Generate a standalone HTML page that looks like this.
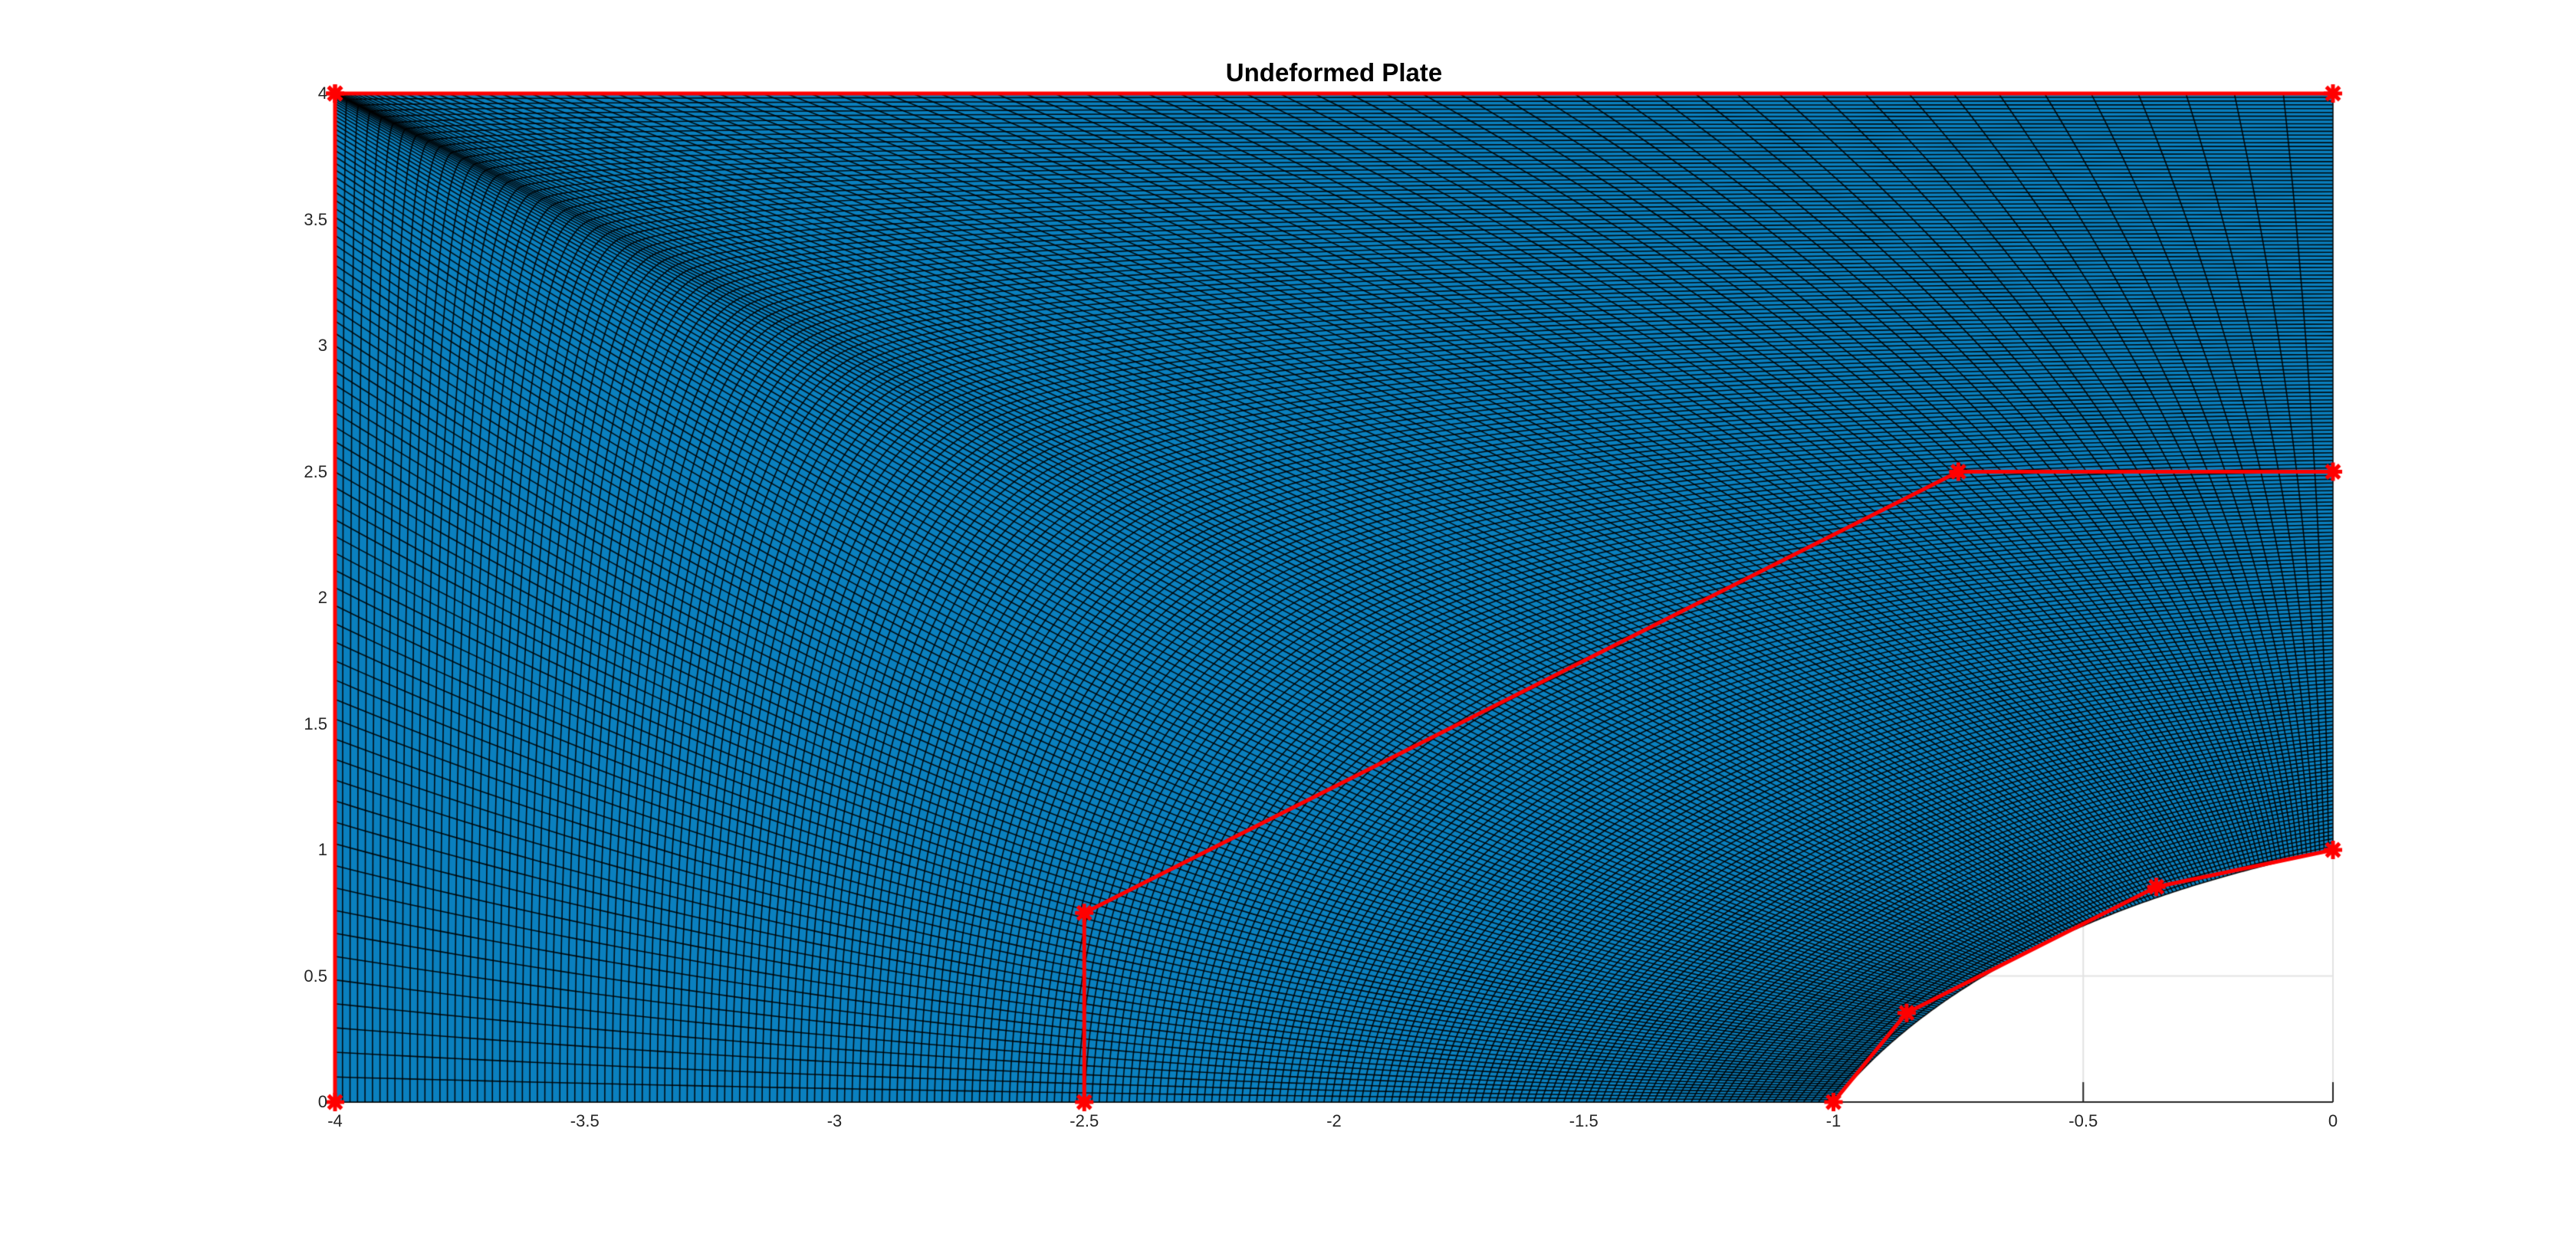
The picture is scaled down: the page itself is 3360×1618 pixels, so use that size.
<!DOCTYPE html>
<html><head><meta charset="utf-8">
<style>
html,body{margin:0;padding:0;background:#fff;}
#wrap{position:relative;width:3360px;height:1618px;overflow:hidden;font-family:"Liberation Sans",sans-serif;}
canvas{position:absolute;left:0;top:0;}
.tl{position:absolute;font-size:22px;color:#262626;}
.xt{transform:translateX(-50%);top:1450px;}
.yt{transform:translate(-100%,-50%);}
#title{position:absolute;left:1740px;top:76px;transform:translateX(-50%);font-size:33px;font-weight:bold;color:#000;white-space:nowrap;}
</style></head>
<body>
<div id="wrap">
<canvas id="cv" width="3360" height="1618"></canvas>
<div id="title">Undeformed Plate</div>
<div id="ticks"></div>
</div>
<script>
// ---- data ----
const xTicks = [-4,-3.5,-3,-2.5,-2,-1.5,-1,-0.5,0];
const yTicks = [0,0.5,1,1.5,2,2.5,3,3.5,4];
const xTickLabels = ["-4","-3.5","-3","-2.5","-2","-1.5","-1","-0.5","0"];
const yTickLabels = ["0","0.5","1","1.5","2","2.5","3","3.5","4"];
// control points (u index, per v row)
const holeX = [-1,-0.8535534,-0.3535534,0];
const holeY = [0,0.3535534,0.8535534,1];
const midX = [-2.5,-2.5,-0.75,0];
const midY = [0,0.75,2.5,2.5];
const outX = [-4,-4,-4,0];
const outY = [0,4,4,4];
const uKnots = [0,0,0,0.5,1,1,1];
const vKnots = [0,0,0,1,1,1];
const nU = 160, nV = 200;

// ---- axes ----
const X0=437, X1=3043, Y0=1438, Y1=122;
const sx = x => X0 + (x+4)/4*(X1-X0);
const sy = y => Y0 - y/4*(Y0-Y1);

function basis(knots,p,t){
  const n=knots.length-p-1; let N=[];
  if(t>=1) t=1-1e-9;
  for(let i=0;i<knots.length-1;i++) N[i]=(t>=knots[i]&&t<knots[i+1])?1:0;
  for(let k=1;k<=p;k++){
    for(let i=0;i<knots.length-1-k;i++){
      let a=0,b=0;
      const d1=knots[i+k]-knots[i], d2=knots[i+k+1]-knots[i+1];
      if(d1>0) a=(t-knots[i])/d1*N[i];
      if(d2>0) b=(knots[i+k+1]-t)/d2*N[i+1];
      N[i]=a+b;
    }
  }
  return N.slice(0,n);
}
const rowsX=[holeX,midX,outX], rowsY=[holeY,midY,outY];
function pt(u,v){
  const Nu=basis(uKnots,2,u), Nv=basis(vKnots,2,v);
  let x=0,y=0,w=0;
  for(let j=0;j<3;j++)for(let i=0;i<4;i++){
    const b=Nu[i]*Nv[j];
    x+=b*rowsX[j][i]; y+=b*rowsY[j][i]; w+=b;
  }
  return [sx(x/w),sy(y/w)];
}

const cv=document.getElementById('cv'); const ctx=cv.getContext('2d');
// grid lines
ctx.strokeStyle='#e3e3e3'; ctx.lineWidth=2;
xTicks.forEach(t=>{ctx.beginPath();ctx.moveTo(sx(t),Y0);ctx.lineTo(sx(t),Y1);ctx.stroke();});
yTicks.forEach(t=>{ctx.beginPath();ctx.moveTo(X0,sy(t));ctx.lineTo(X1,sy(t));ctx.stroke();});
// axis line + ticks
ctx.strokeStyle='#262626'; ctx.lineWidth=2;
ctx.beginPath();ctx.moveTo(X0,Y0);ctx.lineTo(X1,Y0);ctx.stroke();
xTicks.forEach(t=>{ctx.beginPath();ctx.moveTo(sx(t),Y0);ctx.lineTo(sx(t),Y0-26);ctx.stroke();});
yTicks.forEach(t=>{ctx.beginPath();ctx.moveTo(X0,sy(t));ctx.lineTo(X0+26,sy(t));ctx.stroke();});
// surface fill
const S=200;
ctx.fillStyle='#0a80bf';
ctx.beginPath();
for(let k=0;k<=S;k++){const p=pt(k/S,0); k?ctx.lineTo(p[0],p[1]):ctx.moveTo(p[0],p[1]);}
for(let k=0;k<=S;k++){const p=pt(1,k/S);ctx.lineTo(p[0],p[1]);}
for(let k=S;k>=0;k--){const p=pt(k/S,1);ctx.lineTo(p[0],p[1]);}
for(let k=S;k>=0;k--){const p=pt(0,k/S);ctx.lineTo(p[0],p[1]);}
ctx.closePath();ctx.fill();
// mesh lines
ctx.strokeStyle='rgba(0,0,0,0.9)'; ctx.lineWidth=1.6;
for(let a=0;a<=nU;a++){
  const u=a/nU; ctx.beginPath();
  for(let k=0;k<=60;k++){const p=pt(u,k/60);k?ctx.lineTo(p[0],p[1]):ctx.moveTo(p[0],p[1]);}
  ctx.stroke();
}
for(let b=0;b<=nV;b++){
  const v=b/nV; ctx.beginPath();
  for(let k=0;k<=160;k++){const p=pt(k/160,v);k?ctx.lineTo(p[0],p[1]):ctx.moveTo(p[0],p[1]);}
  ctx.stroke();
}
// red control net
ctx.strokeStyle='#ff0000'; ctx.lineWidth=5; ctx.lineJoin='round';
for(let j=0;j<3;j++){
  ctx.beginPath();
  for(let i=0;i<4;i++){
    const X=sx(rowsX[j][i]), Y=sy(rowsY[j][i]);
    i?ctx.lineTo(X,Y):ctx.moveTo(X,Y);
  }
  ctx.stroke();
}
ctx.lineWidth=5;
for(let j=0;j<3;j++)for(let i=0;i<4;i++){
  const X=sx(rowsX[j][i]), Y=sy(rowsY[j][i]), r=12;
  ctx.beginPath();
  ctx.moveTo(X-r,Y);ctx.lineTo(X+r,Y);
  ctx.moveTo(X,Y-r);ctx.lineTo(X,Y+r);
  const d=r*0.72;
  ctx.moveTo(X-d,Y-d);ctx.lineTo(X+d,Y+d);
  ctx.moveTo(X-d,Y+d);ctx.lineTo(X+d,Y-d);
  ctx.stroke();
}
// tick labels
const tk=document.getElementById('ticks');
xTicks.forEach((t,i)=>{
  const d=document.createElement('div');
  d.className='tl xt'; d.style.left=sx(t)+'px'; d.textContent=xTickLabels[i];
  
  
  tk.appendChild(d);
});
yTicks.forEach((t,i)=>{
  const d=document.createElement('div');
  d.className='tl yt'; d.style.left=(X0-10)+'px'; d.style.top=sy(t)+'px'; d.textContent=yTickLabels[i];
  
  
  tk.appendChild(d);
});
</script>
</body></html>
